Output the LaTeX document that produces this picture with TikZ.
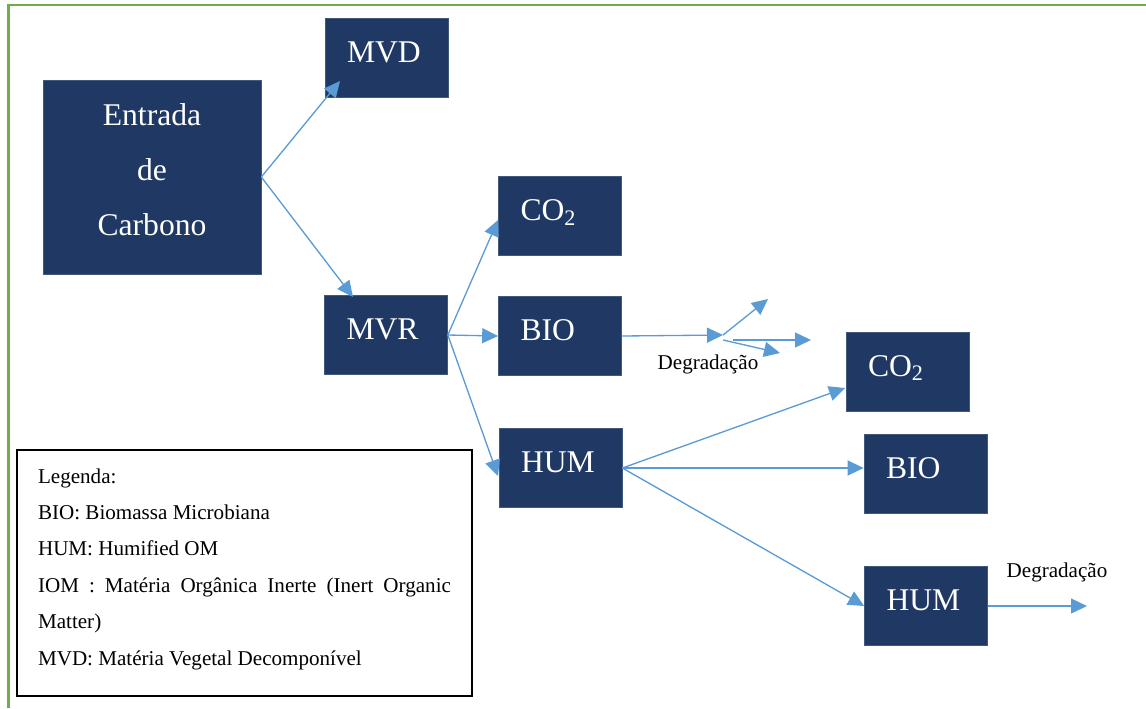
\documentclass[tikz,border=0pt]{standalone}
\usepackage{fontspec}
\setmainfont{Liberation Serif}
\usetikzlibrary{arrows.meta}
\definecolor{caixa}{HTML}{1F3864}
\definecolor{bordacaixa}{HTML}{41597C}
\definecolor{azulseta}{HTML}{5B9BD5}
\definecolor{moldura}{HTML}{70AD47}

\begin{document}
\begin{tikzpicture}[x=0.02cm, y=-0.02cm,
		bloco/.style={fill=caixa, draw=bordacaixa, line width=0.4pt, text=white,
			font=\fontsize{18}{21.6}\selectfont, inner xsep=0.44cm, inner ysep=0pt,
			text width=1.58cm, align=left, minimum height=1.58cm,
			text height=0.42cm, text depth=0.24cm},
		fluxo/.style={draw=azulseta, line width=0.75pt,
			-{Triangle[length=0.32cm, width=0.3cm]}, fill=azulseta},
		rotulo/.style={font=\fontsize{12}{14}\selectfont, inner sep=0pt}]
	
	% 0. Moldura verde (so as bordas esquerda e superior aparecem)
	\useasboundingbox (0,0) rectangle (1146,708);
	\draw[moldura, line width=0.05cm] (8.7,708) -- (8.7,5) -- (1146,5);
	
	% 1. Caixas do fluxo de carbono
	\node[fill=caixa, draw=bordacaixa, line width=0.4pt, text=white,
		font=\fontsize{18}{31.3}\selectfont, align=center,
		minimum width=4.36cm, minimum height=3.88cm, text depth=0.28cm]
		(entrada) at (152,177) {Entrada\\de\\Carbono};
	\node[bloco] (MVD) at (386.5,57.5) {MVD};
	\node[bloco] (MVR) at (386,335) {MVR};
	\node[bloco] (COa) at (560,216) {CO\textsubscript{2}};
	\node[bloco] (BIOa) at (560,336) {BIO};
	\node[bloco] (HUMa) at (560.5,468) {HUM};
	\node[bloco] (COb) at (907.5,371.5) {CO\textsubscript{2}};
	\node[bloco] (BIOb) at (925.5,474) {BIO};
	\node[bloco] (HUMb) at (926,606) {HUM};
	
	% 2. Pontas livres das setas
	\coordinate (pMVD) at (340,81);
	\coordinate (pMVR) at (353,297);
	\coordinate (pCOa) at (498,220);
	\coordinate (pHUMa) at (498,476);
	\coordinate (pCOb) at (845,388);
	\coordinate (garfo) at (723,335);
	\coordinate (ga) at (768,299);
	\coordinate (gbi) at (733,340);
	\coordinate (gb) at (811,340);
	\coordinate (gci) at (723,340);
	\coordinate (gc) at (780,353);
	\coordinate (fimHUM) at (1087,606);
	
	% 3. Setas
	\draw[fluxo] (entrada.east) -- (pMVD);
	\draw[fluxo] (entrada.east) -- (pMVR);
	\draw[fluxo] (MVR.east) -- (pCOa);
	\draw[fluxo] (MVR.east) -- (BIOa.west);
	\draw[fluxo] (MVR.east) -- (pHUMa);
	\draw[fluxo] (BIOa.east) -- (garfo);
	\draw[fluxo] (garfo) -- (ga);
	\draw[fluxo] (gbi) -- (gb);
	\draw[fluxo] (gci) -- (gc);
	\draw[fluxo] (HUMa.east) -- (pCOb);
	\draw[fluxo] (HUMa.east) -- (BIOb.west |- HUMa.east);
	\draw[fluxo] (HUMa.east) -- (HUMb.west);
	\draw[fluxo] (HUMb.east) -- (fimHUM);
	
	% 4. Rotulos de degradacao
	\node[rotulo] (degA) at (708,364) {Degradação};
	\node[rotulo] (degB) at (1057,572) {Degradação};
	
	% 5. Legenda
	\node[draw=black, line width=1.2pt, anchor=north west, inner xsep=0.42cm,
		text width=8.26cm, align=justify, minimum height=4.92cm,
		font=\fontsize{12}{20.7}\selectfont]
		(legenda) at (16,449) {Legenda:\\
		BIO: Biomassa Microbiana\\
		HUM: Humified OM\\
		IOM : Matéria Orgânica Inerte (Inert Organic\linebreak Matter)\\
		MVD: Matéria Vegetal Decomponível\rule[-0.25cm]{0pt}{0pt}};
	
\end{tikzpicture}
\end{document}
